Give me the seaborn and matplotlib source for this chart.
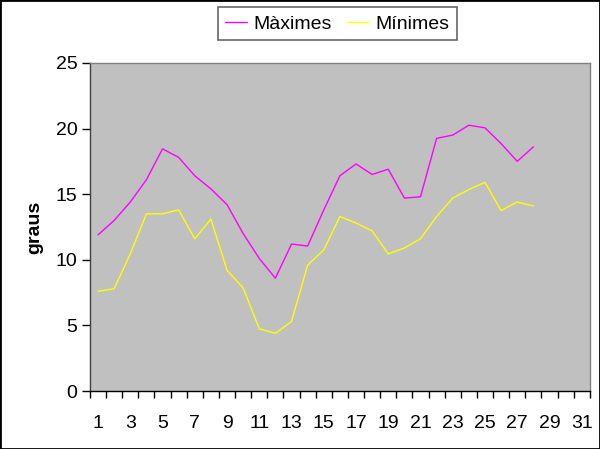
import matplotlib
matplotlib.use("Agg")
import matplotlib.pyplot as plt
import seaborn as sns
import pandas as pd
import numpy as np
from matplotlib.ticker import FixedLocator
from matplotlib.lines import Line2D

days = list(range(1, 29))
maximes = [11.9, 13.0, 14.4, 16.1, 18.45, 17.8, 16.4, 15.4, 14.2, 12.0,
           10.1, 8.6, 11.2, 11.05, 13.8, 16.4, 17.3, 16.5, 16.9, 14.7,
           14.8, 19.25, 19.5, 20.25, 20.05, 18.85, 17.5, 18.6]
minimes = [7.6, 7.8, 10.45, 13.5, 13.5, 13.8, 11.6, 13.1, 9.2, 7.85,
           4.75, 4.4, 5.3, 9.6, 10.75, 13.3, 12.8, 12.2, 10.45, 10.9,
           11.6, 13.3, 14.7, 15.35, 15.9, 13.75, 14.4, 14.1]
series_names = ["Màximes", "Mínimes"]
colors = ["#FF00FF", "#FFFF00"]
x_tick_labels = [str(d) for d in range(1, 32, 2)]
y_ticks = [0, 5, 10, 15, 20, 25]

df = pd.DataFrame({
    "dia": days * 2,
    "graus": maximes + minimes,
    "serie": [series_names[0]] * len(days) + [series_names[1]] * len(days),
})

sns.set_theme(style="white")
plt.rcParams['font.family'] = ['Liberation Sans', 'DejaVu Sans']
plt.rcParams['text.color'] = 'black'
plt.rcParams['axes.labelcolor'] = 'black'
plt.rcParams['xtick.color'] = 'black'
plt.rcParams['ytick.color'] = 'black'

FS = 14

fig = plt.figure(figsize=(6, 4.49), dpi=100, facecolor="white")
ax = fig.add_axes([0.15, 0.129, 0.833, 0.731])
sns.lineplot(data=df, x="dia", y="graus", hue="serie", palette=colors,
             linewidth=1.0, ax=ax, legend=False)

ax.set_facecolor("#C0C0C0")
for s in ax.spines.values():
    s.set_color("#808080")
    s.set_linewidth(1)
ax.spines["bottom"].set_color("black")
ax.spines["left"].set_color("#404040")

ax.set_xlim(0.5, 31.5)
ax.set_ylim(0, 25)
ax.xaxis.set_major_locator(FixedLocator(list(range(1, 32, 2))))
ax.set_xticklabels(x_tick_labels)
ax.xaxis.set_minor_locator(FixedLocator(list(np.arange(0.5, 32, 1.0))))
ax.tick_params(axis="x", which="major", length=0, pad=17, labelsize=FS, labelcolor="black")
ax.tick_params(axis="x", which="minor", length=5, width=1, direction="out", color="black", bottom=True)
ax.set_yticks(y_ticks)
ax.tick_params(axis="y", which="major", length=6, width=1, direction="out", color="black",
               left=True, labelsize=FS, pad=3, labelcolor="black")
ax.set_xlabel("")
ax.set_ylabel("graus", fontsize=FS, fontweight="bold", labelpad=9, color="black")

handles = [Line2D([0], [0], color=c, lw=1.0) for c in colors]
leg = fig.legend(handles, series_names, loc="upper center", bbox_to_anchor=(0.5625, 0.984),
                 ncol=2, fontsize=FS, frameon=True, fancybox=False, edgecolor="#404040",
                 handlelength=1.1, handletextpad=0.35, columnspacing=0.8,
                 borderpad=0.4, borderaxespad=0)
leg.get_frame().set_linewidth(1.2)
for t in leg.get_texts():
    t.set_color("black")

fig.patches.append(plt.Rectangle((0, 0), 1, 1, transform=fig.transFigure, fill=False,
                                 edgecolor="black", linewidth=2, zorder=10))
fig.savefig("out.png", dpi=100, facecolor="white")
